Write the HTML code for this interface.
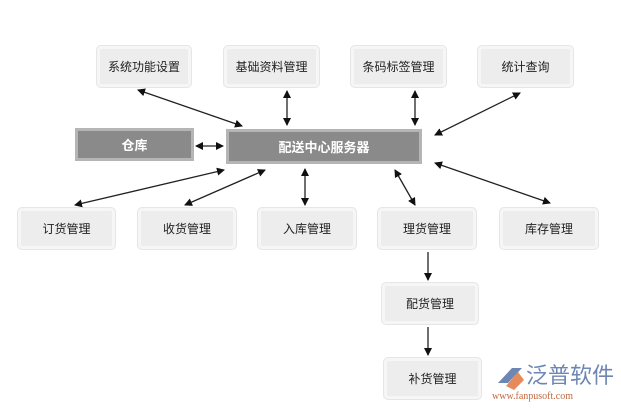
<!DOCTYPE html>
<html><head><meta charset="utf-8"><style>
body{margin:0;width:621px;height:409px;background:#fff;position:relative;overflow:hidden;font-family:"Liberation Sans","Noto Sans CJK SC",sans-serif}
.b{position:absolute;background:#ededee;border:3px solid #f6f6f6;box-shadow:0 0 0 1px #e6e6e6;border-radius:4px;font-size:12px;color:#222;display:flex;align-items:center;justify-content:center;box-sizing:border-box}
.g{position:absolute;background:#8a8a8a;border:3px solid #b5b5b5;color:#fff;font-weight:bold;font-size:13px;display:flex;align-items:center;justify-content:center;box-sizing:border-box}
svg{position:absolute;left:0;top:0}
</style></head><body>
<div class="b" style="left:97px;top:46px;width:94px;height:41px">系统功能设置</div>
<div class="b" style="left:224px;top:46px;width:95px;height:41px">基础资料管理</div>
<div class="b" style="left:351px;top:46px;width:95px;height:41px">条码标签管理</div>
<div class="b" style="left:478px;top:46px;width:95px;height:41px">统计查询</div>
<div class="g" style="left:75px;top:128px;width:119px;height:33px">仓库</div>
<div class="g" style="left:226px;top:129px;width:196px;height:35px">配送中心服务器</div>
<div class="b" style="left:18px;top:208px;width:97px;height:41px">订货管理</div>
<div class="b" style="left:138px;top:208px;width:98px;height:41px">收货管理</div>
<div class="b" style="left:258px;top:208px;width:98px;height:41px">入库管理</div>
<div class="b" style="left:378px;top:208px;width:98px;height:41px">理货管理</div>
<div class="b" style="left:500px;top:208px;width:98px;height:41px">库存管理</div>
<div class="b" style="left:382px;top:283px;width:96px;height:41px">配货管理</div>
<div class="b" style="left:384px;top:358px;width:97px;height:41px">补货管理</div>
<svg width="621" height="409">
<defs><marker id="a" markerWidth="8" markerHeight="8" refX="7" refY="4" orient="auto-start-reverse" markerUnits="userSpaceOnUse"><path d="M0,0L8,4L0,8z" fill="#111"/></marker></defs>
<g stroke="#222" stroke-width="1.3" marker-start="url(#a)" marker-end="url(#a)">
<line x1="138" y1="90" x2="242" y2="126"/>
<line x1="287" y1="91" x2="287" y2="125"/>
<line x1="415" y1="91" x2="415" y2="125"/>
<line x1="520" y1="93" x2="435" y2="135"/>
<line x1="196" y1="146" x2="223" y2="146"/>
<line x1="75" y1="205" x2="224" y2="170"/>
<line x1="185" y1="205" x2="265" y2="170"/>
<line x1="305" y1="205" x2="305" y2="169"/>
<line x1="415" y1="205" x2="395" y2="170"/>
<line x1="550" y1="203" x2="435" y2="163"/>
</g>
<g stroke="#222" stroke-width="1.3" marker-end="url(#a)">
<line x1="428" y1="252" x2="428" y2="280"/>
<line x1="428" y1="327" x2="428" y2="355"/>
</g>
<path d="M498 383 L512 368 L522 368 L508 383Z" fill="#6d86b3"/>
<path d="M506 386 L518 372 L524 380 L514 390Z" fill="#e58a5a"/>
<text x="526" y="383" font-size="22" fill="#6d86b3" font-family="Noto Sans CJK SC,sans-serif">泛普软件</text>
<text x="492" y="399" font-size="10" fill="#c06a40" font-family="Liberation Serif,serif">www.fanpusoft.com</text>
</svg>
</body></html>
